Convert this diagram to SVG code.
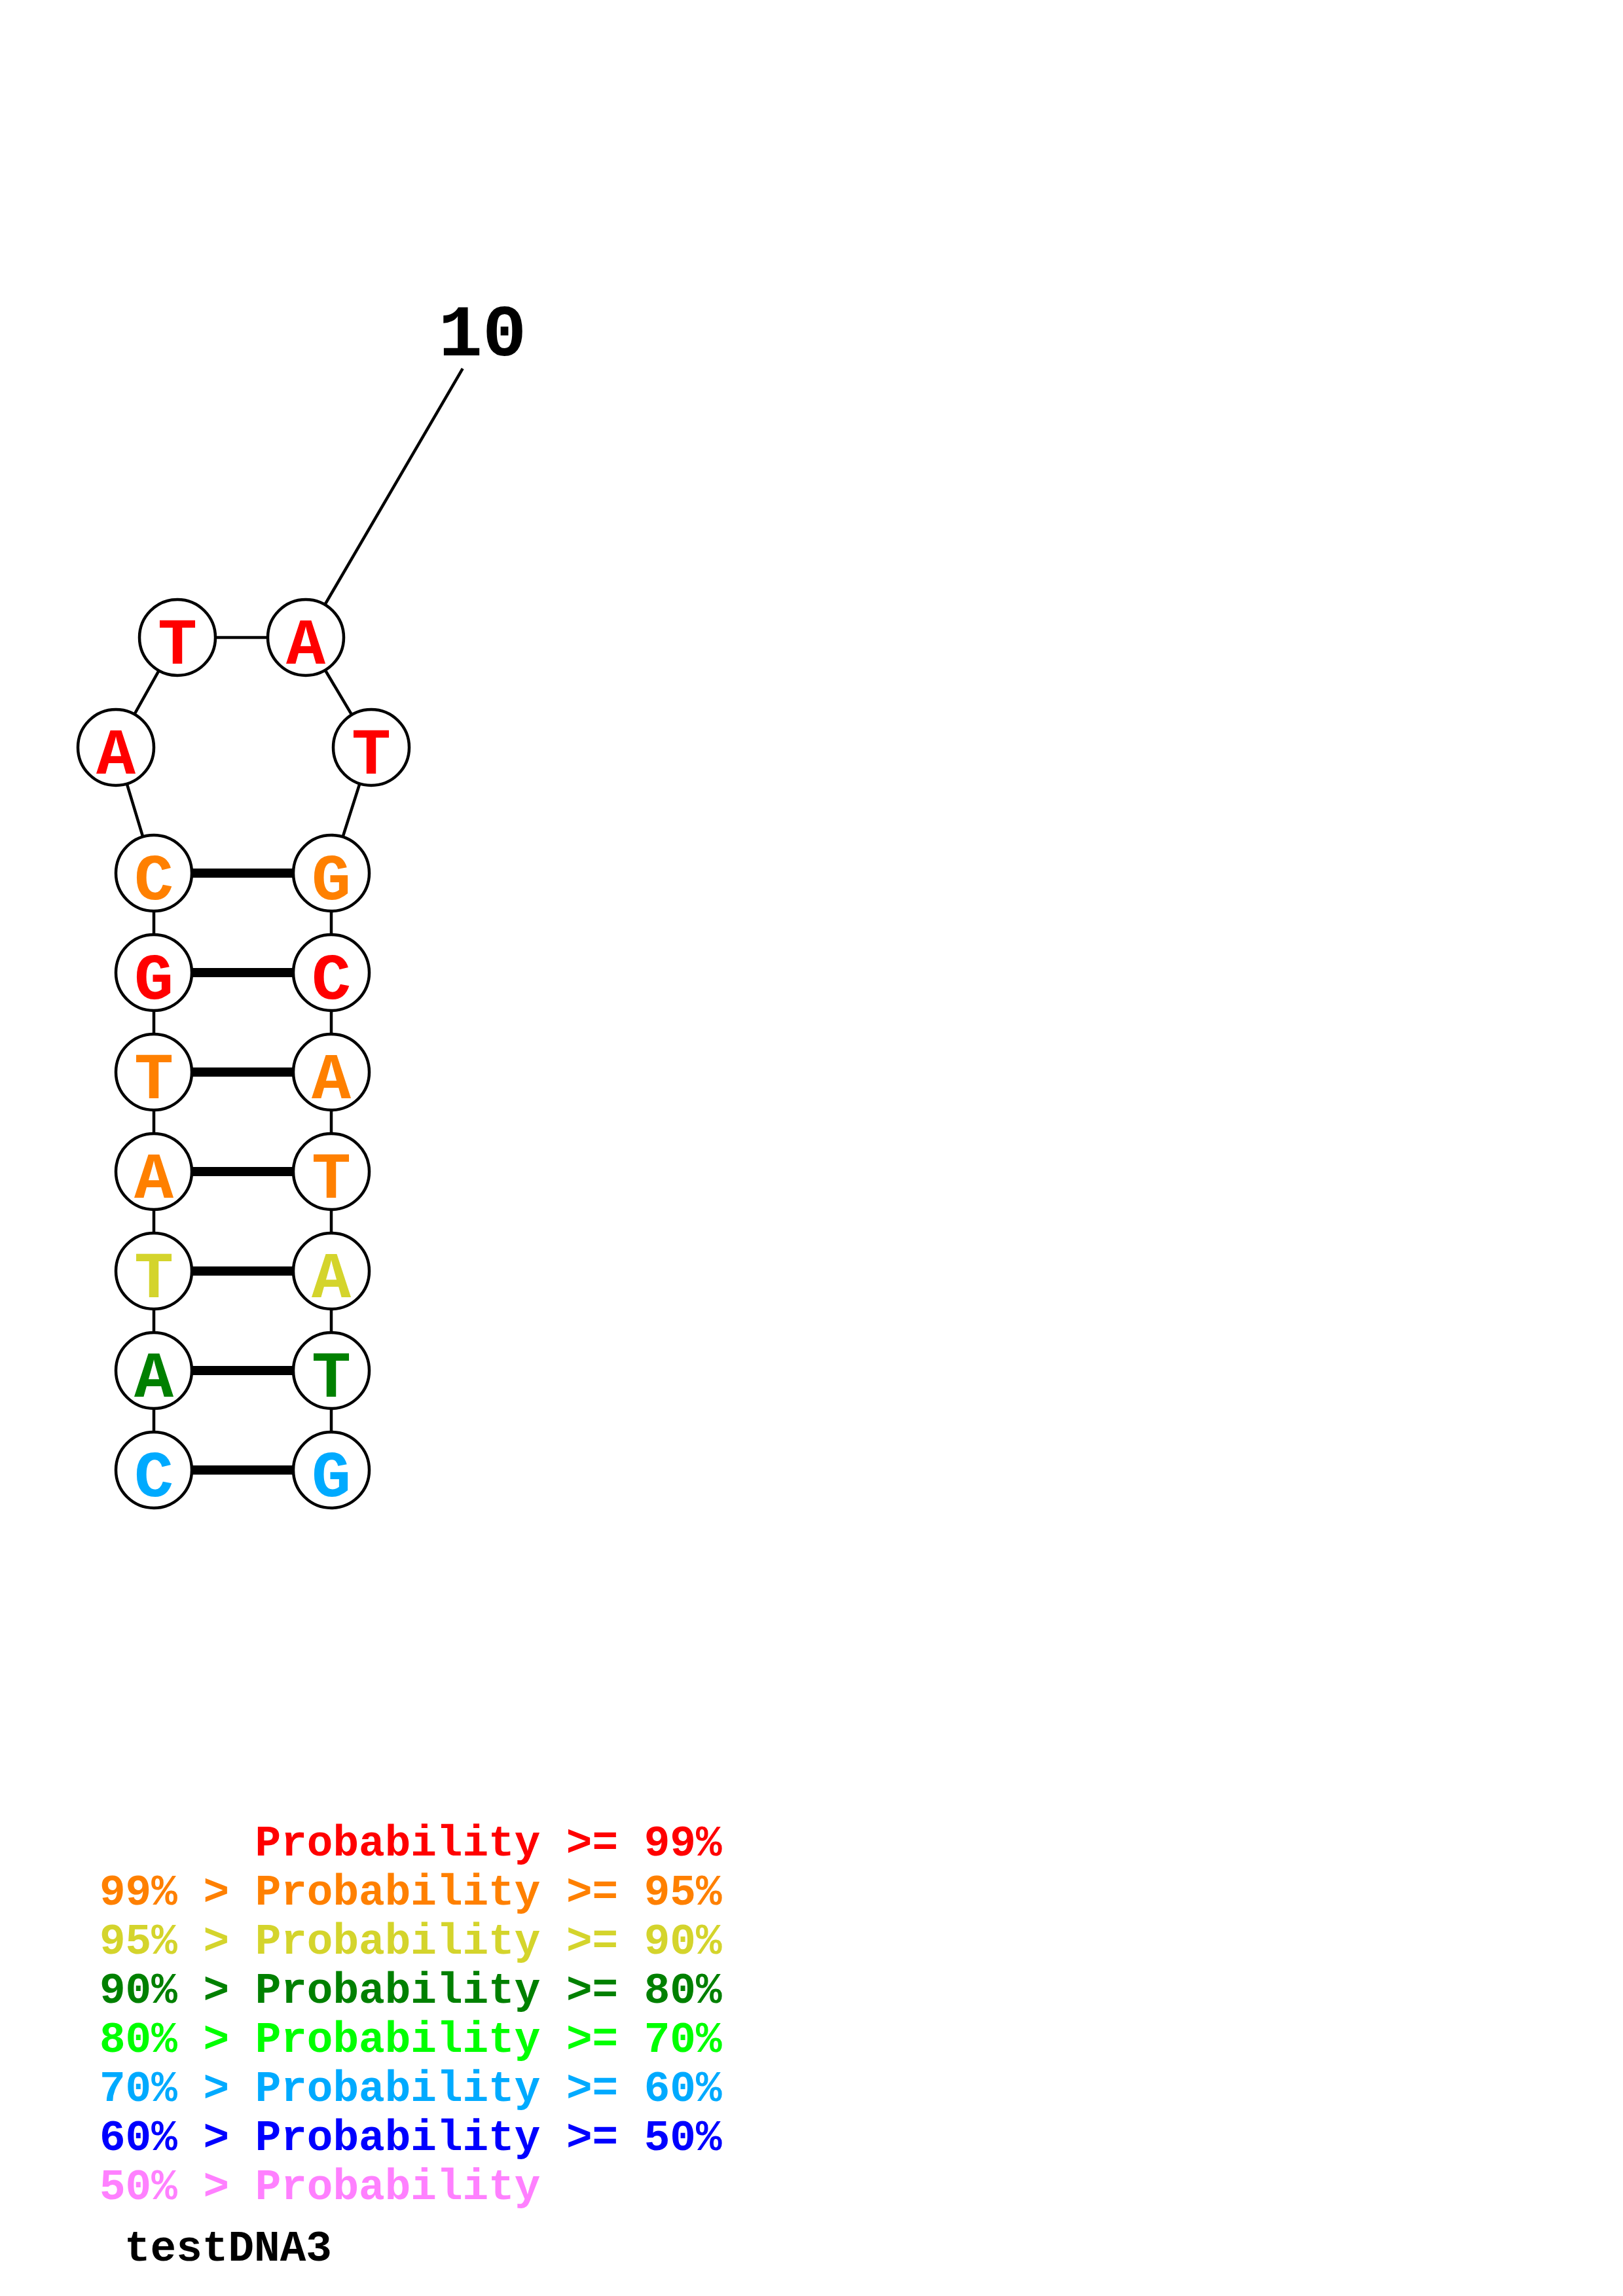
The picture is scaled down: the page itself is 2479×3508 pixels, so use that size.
<svg xmlns="http://www.w3.org/2000/svg" width="2479" height="3508" viewBox="0 0 2479 3508">
<style>
.bb{stroke:#000;stroke-width:4.5;fill:none}
.bp{stroke:#000;stroke-width:14;fill:none}
.nc{fill:#fff;stroke:#000;stroke-width:4.5}
.nt{font-family:"Liberation Mono","DejaVu Sans Mono",monospace;font-weight:bold;font-size:100px;text-anchor:middle}
.lg{font-family:"Liberation Mono","DejaVu Sans Mono",monospace;font-weight:bold;font-size:66px}
.r{fill:#FF0000}.o{fill:#FF8000}.y{fill:#D4D42C}.dg{fill:#008000}.g{fill:#00FF00}.lb{fill:#00AAFF}.b{fill:#0000FF}.p{fill:#FF80FF}
</style>
<rect width="2479" height="3508" fill="#fff"/>
<g id="connectors">
<line class="bb" x1="467" y1="974" x2="706.7" y2="563.2"/>
<polyline class="bb" points="235,2246 235,1334 177,1142 271,974 467,974 567,1142 506,1334 506,2246"/>
<line class="bp" x1="235" y1="1334" x2="506" y2="1334"/>
<line class="bp" x1="235" y1="1486" x2="506" y2="1486"/>
<line class="bp" x1="235" y1="1638" x2="506" y2="1638"/>
<line class="bp" x1="235" y1="1790" x2="506" y2="1790"/>
<line class="bp" x1="235" y1="1942" x2="506" y2="1942"/>
<line class="bp" x1="235" y1="2094" x2="506" y2="2094"/>
<line class="bp" x1="235" y1="2246" x2="506" y2="2246"/>
</g>
<g id="n1"><circle class="nc" cx="235" cy="2246" r="58"/><text class="nt lb" x="235" y="2286">C</text></g>
<g id="n2"><circle class="nc" cx="235" cy="2094" r="58"/><text class="nt dg" x="235" y="2134">A</text></g>
<g id="n3"><circle class="nc" cx="235" cy="1942" r="58"/><text class="nt y" x="235" y="1982">T</text></g>
<g id="n4"><circle class="nc" cx="235" cy="1790" r="58"/><text class="nt o" x="235" y="1830">A</text></g>
<g id="n5"><circle class="nc" cx="235" cy="1638" r="58"/><text class="nt o" x="235" y="1678">T</text></g>
<g id="n6"><circle class="nc" cx="235" cy="1486" r="58"/><text class="nt r" x="235" y="1526">G</text></g>
<g id="n7"><circle class="nc" cx="235" cy="1334" r="58"/><text class="nt o" x="235" y="1374">C</text></g>
<g id="n8"><circle class="nc" cx="177" cy="1142" r="58"/><text class="nt r" x="177" y="1182">A</text></g>
<g id="n9"><circle class="nc" cx="271" cy="974" r="58"/><text class="nt r" x="271" y="1014">T</text></g>
<g id="n10"><circle class="nc" cx="467" cy="974" r="58"/><text class="nt r" x="467" y="1014">A</text></g>
<g id="n11"><circle class="nc" cx="567" cy="1142" r="58"/><text class="nt r" x="567" y="1182">T</text></g>
<g id="n12"><circle class="nc" cx="506" cy="1334" r="58"/><text class="nt o" x="506" y="1374">G</text></g>
<g id="n13"><circle class="nc" cx="506" cy="1486" r="58"/><text class="nt r" x="506" y="1526">C</text></g>
<g id="n14"><circle class="nc" cx="506" cy="1638" r="58"/><text class="nt o" x="506" y="1678">A</text></g>
<g id="n15"><circle class="nc" cx="506" cy="1790" r="58"/><text class="nt o" x="506" y="1830">T</text></g>
<g id="n16"><circle class="nc" cx="506" cy="1942" r="58"/><text class="nt y" x="506" y="1982">A</text></g>
<g id="n17"><circle class="nc" cx="506" cy="2094" r="58"/><text class="nt dg" x="506" y="2134">T</text></g>
<g id="n18"><circle class="nc" cx="506" cy="2246" r="58"/><text class="nt lb" x="506" y="2286">G</text></g>
<g id="label10"><text x="737" y="543" font-family="Liberation Mono, DejaVu Sans Mono, monospace" font-weight="bold" font-size="112" text-anchor="middle" fill="#000">10</text></g>
<g id="legend">
<text class="lg r" x="389.6" y="2835">Probability &gt;= 99%</text>
<text class="lg o" x="152" y="2910">99% &gt; Probability &gt;= 95%</text>
<text class="lg y" x="152" y="2985">95% &gt; Probability &gt;= 90%</text>
<text class="lg dg" x="152" y="3060">90% &gt; Probability &gt;= 80%</text>
<text class="lg g" x="152" y="3135">80% &gt; Probability &gt;= 70%</text>
<text class="lg lb" x="152" y="3210">70% &gt; Probability &gt;= 60%</text>
<text class="lg b" x="152" y="3285">60% &gt; Probability &gt;= 50%</text>
<text class="lg p" x="152" y="3360">50% &gt; Probability</text>
<text class="lg" fill="#000" x="190" y="3454">testDNA3</text>
</g>
</svg>
